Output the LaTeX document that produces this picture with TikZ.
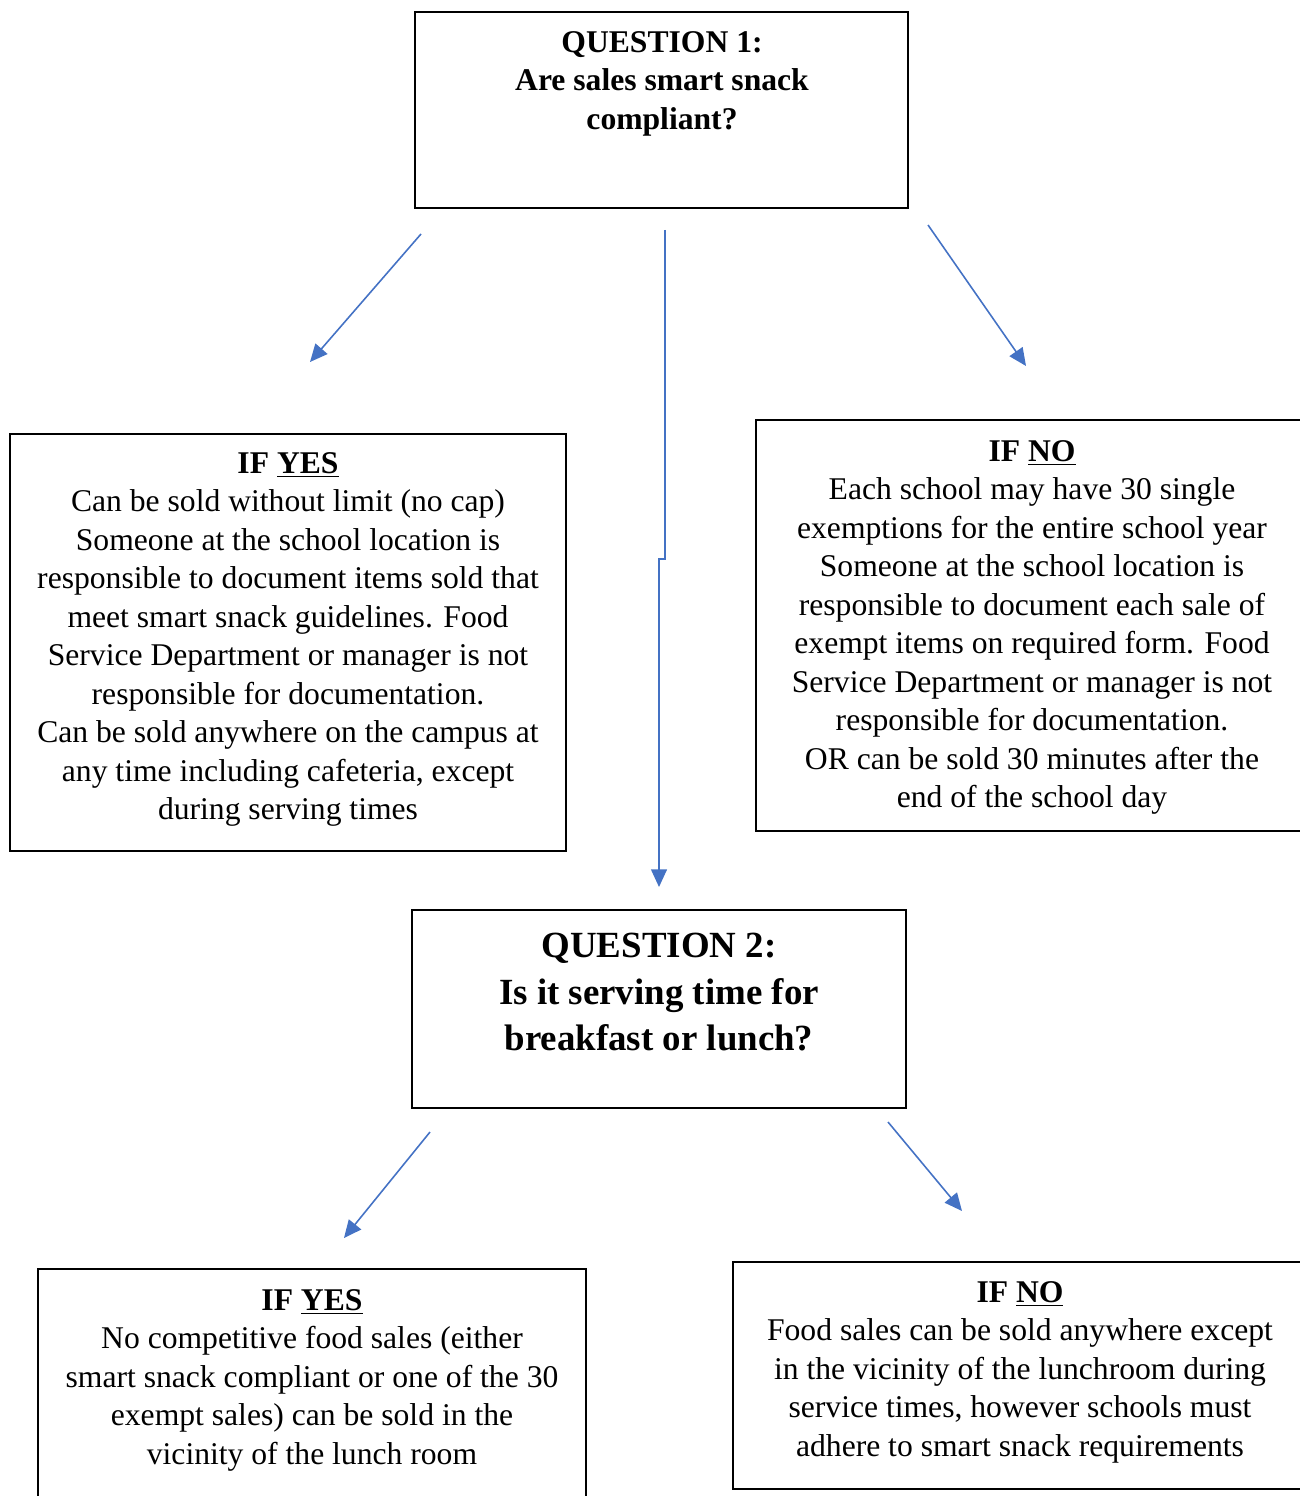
\documentclass[tikz,border=0pt]{standalone}
\usepackage{fontspec}
\setmainfont{Liberation Serif}
\usepackage{xcolor}
\usetikzlibrary{arrows.meta, positioning, calc}

\definecolor{flowblue}{RGB}{68,114,196}

\begin{document}
\begin{tikzpicture}[x=0.02cm, y=-0.02cm]
        \tikzset{
            box/.style={draw, line width=1pt, inner sep=0pt},
            body/.style={align=center, inner sep=0pt, font=\fontsize{18}{21.9}\selectfont},
            ask/.style={align=center, inner sep=0pt, font=\bfseries\fontsize{18}{22}\selectfont},
            bigask/.style={align=center, inner sep=0pt, font=\bfseries\fontsize{21}{26.4}\selectfont},
            flow/.style={draw=flowblue, line width=0.9pt, -{Triangle[length=10pt, width=9pt]}}
        }
        \useasboundingbox (0,0) rectangle (1300,1496);

        \coordinate (Q1L) at (421,234);
        \coordinate (Q1M) at (665,230);
        \coordinate (Q1R) at (928,225);
        \coordinate (YesA) at (310,362);
        \coordinate (NoA) at (1026,366);
        \coordinate (JogA) at (665,559);
        \coordinate (JogB) at (659,559);
        \coordinate (Q2In) at (659,887);
        \coordinate (Q2L) at (430,1132);
        \coordinate (Q2R) at (888,1122);
        \coordinate (YesB) at (344,1238);
        \coordinate (NoB) at (962,1211);

        \node[box, minimum width=9.86cm, minimum height=3.92cm] (q1) at (661.5,110) {};% Question 1
        \node[ask, anchor=north] (q1text) at (662,31) {QUESTION 1:\\Are sales smart snack\\compliant?};

        \node[box, minimum width=11.12cm, minimum height=8.34cm] (yes1) at (288,642.5) {};% Yes 1
        \node[body, anchor=north] (yes1text) at (288,452) {\textbf{IF \underline{YES}}\\Can be sold without limit (no cap)\\Someone at the school location is\\responsible to document items sold that\\meet smart snack guidelines. Food\\Service Department or manager is not\\responsible for documentation.\\Can be sold anywhere on the campus at\\any time including cafeteria, except\\during serving times};

        \node[box, minimum width=11.08cm, minimum height=8.22cm] (no1) at (1033,625.5) {};% No 1
        \node[body, anchor=north] (no1text) at (1032,440) {\textbf{IF \underline{NO}}\\Each school may have 30 single\\exemptions for the entire school year\\Someone at the school location is\\responsible to document each sale of\\exempt items on required form. Food\\Service Department or manager is not\\responsible for documentation.\\OR can be sold 30 minutes after the\\end of the school day};

        \node[box, minimum width=9.88cm, minimum height=3.96cm] (q2) at (659,1009) {};% Question 2
        \node[bigask, anchor=north] (q2text) at (659,933) {QUESTION 2:\\Is it serving time for\\breakfast or lunch?};

        \node[box, minimum width=10.96cm, minimum height=5.02cm] (yes2) at (312,1394.5) {};% Yes 2
        \node[body, anchor=north] (yes2text) at (312,1289) {\textbf{IF \underline{YES}}\\No competitive food sales (either\\smart snack compliant or one of the 30\\exempt sales) can be sold in the\\vicinity of the lunch room};

        \node[box, minimum width=11.54cm, minimum height=4.54cm] (no2) at (1021.5,1375.5) {};% No 2
        \node[body, anchor=north] (no2text) at (1020,1281) {\textbf{IF \underline{NO}}\\Food sales can be sold anywhere except\\in the vicinity of the lunchroom during\\service times, however schools must\\adhere to smart snack requirements};

        \draw[flow] (Q1L) -- (YesA);
        \draw[flow] (Q1R) -- (NoA);
        \draw[flow] (Q1M) -- (JogA) -- (JogB) -- (Q2In);
        \draw[flow] (Q2L) -- (YesB);
        \draw[flow] (Q2R) -- (NoB);
    \end{tikzpicture}
\end{document}
